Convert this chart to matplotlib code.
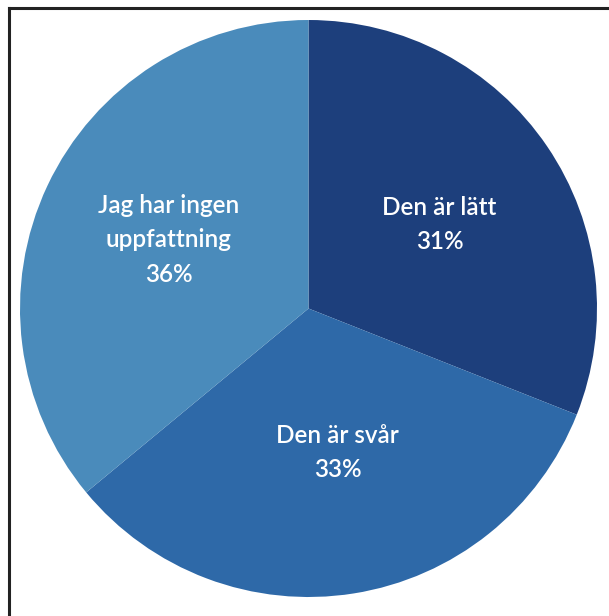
import matplotlib
matplotlib.use("Agg")
import matplotlib.pyplot as plt
from matplotlib.lines import Line2D
import numpy as np

labels = ["Den är lätt", "Den är svår", "Jag har ingen\nuppfattning"]
values = [31, 33, 36]
colors = ["#1d3f7c", "#2e69a8", "#4a8bbb"]

W, H = 609, 616
fig = plt.figure(figsize=(W / 100, H / 100), dpi=100)
fig.patch.set_facecolor("white")

left, right, top, bottom = 20, 597, 20, 597
ax = fig.add_axes([left / W, (H - bottom) / H, (right - left) / W, (bottom - top) / H])
wedges, _ = ax.pie(values, colors=colors, startangle=90, counterclock=False,
                   radius=1, wedgeprops=dict(linewidth=0))
ax.set_xlim(-1, 1)
ax.set_ylim(-1, 1)
ax.axis("off")

dist = [0.54, 0.51, 0.54]
offs = [-1.5, 2.5, -1.0]
for w, lab, v, d, o in zip(wedges, labels, values, dist, offs):
    ang = np.deg2rad((w.theta1 + w.theta2) / 2 + o)
    ax.text(d * np.cos(ang), d * np.sin(ang), f"{lab}\n{v}%", ha="center", va="center",
            color="white", fontsize=17.5, fontweight="semibold",
            family=["Lato", "DejaVu Sans"], linespacing=1.6)

# frame lines (top and left only)
fig.add_artist(Line2D([8.5 / W, 1], [1 - 7.5 / H, 1 - 7.5 / H], color="#222222", lw=2.2,
                      transform=fig.transFigure))
fig.add_artist(Line2D([8.5 / W, 8.5 / W], [0, 1 - 7.5 / H], color="#222222", lw=2.2,
                      transform=fig.transFigure))

fig.savefig("out.png", dpi=100)
